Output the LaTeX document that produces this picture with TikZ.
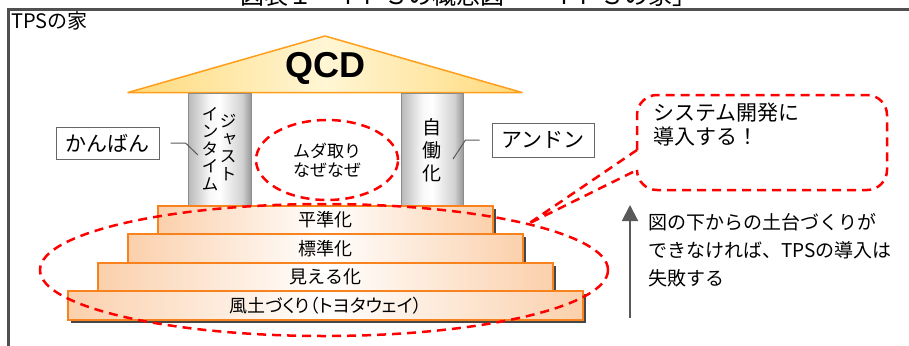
\documentclass[tikz,border=0pt]{standalone}
\usepackage{fontspec}
\setmainfont{Noto Sans CJK JP}
\newfontfamily\jpv[RawFeature=+vert]{Noto Sans CJK JP}
\newfontfamily\jpp[RawFeature=+palt]{Noto Sans CJK JP}
\newfontfamily\qcdfont{Liberation Sans}
\usetikzlibrary{shapes.geometric,arrows.meta}
\definecolor{frameg}{HTML}{505050}
\definecolor{roofedge}{HTML}{FF9E1B}
\definecolor{roofout}{HTML}{FFD97A}
\definecolor{roofin}{HTML}{FFF6D5}
\definecolor{stepedge}{HTML}{F7821E}
\definecolor{stepout}{HTML}{FBD0AC}
\definecolor{dashred}{HTML}{FF0000}
\definecolor{linegray}{HTML}{595959}
\pgfdeclarehorizontalshading{pillarsh}{100bp}{color(0bp)=(black!28); color(25bp)=(black!28); color(42bp)=(black!3); color(50bp)=(white); color(68bp)=(black!18); color(75bp)=(black!40); color(100bp)=(black!40)}
\pgfdeclarehorizontalshading{stepsh}{100bp}{color(0bp)=(stepout); color(25bp)=(stepout); color(50bp)=(white); color(75bp)=(stepout); color(100bp)=(stepout)}
\pgfdeclarehorizontalshading{roofsh}{100bp}{color(0bp)=(roofout); color(25bp)=(roofout); color(50bp)=(roofin); color(75bp)=(roofout); color(100bp)=(roofout)}
\begin{document}
\begin{tikzpicture}[x=1pt,y=-1pt,
  reddash/.style={draw=dashred, line width=2.5pt, dash pattern=on 9pt off 6pt},
  stepbox/.style={shade, shading=stepsh, draw=stepedge, line width=1.8pt, minimum height=28.5pt, inner sep=0pt, font=\fontsize{18}{18}\selectfont},
  stepshadow/.style={fill=black!72},
  labelbox/.style={draw=black!60, line width=1pt, fill=white, inner sep=0pt, font=\fontsize{21}{21}\selectfont},
  thinline/.style={draw=linegray, line width=1pt},
  vtext/.style={align=center, inner sep=0pt}
]
\useasboundingbox (0,0) rectangle (909,345);
% title (cut off at top, as in the reference)
\node[anchor=base, inner sep=0pt, font=\fontsize{24}{24}\selectfont] (title) at (468,5) {図表１　ＴＰＳの概念図　「ＴＰＳの家」};
% frame
\draw[frameg, line width=3pt] (8.5,352) -- (8.5,9.5) -- (916,9.5);
\node[anchor=north west, inner sep=0pt, font=\fontsize{20}{20}\selectfont] (hdr) at (11,12) {TPSの家};
% roof
\path[shade, shading=roofsh, draw=roofedge, line width=1.5pt, line join=round] (128,92.5) -- (325,36) -- (522,92.5) -- cycle;
\node[inner sep=0pt, font=\qcdfont\bfseries\fontsize{36}{36}\selectfont] (qcd) at (325,68) {QCD};
% pillars
\path[shade, shading=pillarsh, draw=black!45, line width=0.8pt] (188,93) rectangle (251,210);
\path[shade, shading=pillarsh, draw=black!45, line width=0.8pt] (401,93) rectangle (463,210);
\node[vtext, font=\jpv\fontsize{17}{17.6}\selectfont] (jit1) at (228,147.5) {ジ\\ャ\\ス\\ト};
\node[vtext, font=\jpv\fontsize{17}{17.6}\selectfont] (jit2) at (210,149) {イ\\ン\\タ\\イ\\ム};
\node[vtext, font=\fontsize{19}{23}\selectfont] (jidoka) at (432,150) {自\\働\\化};
% muda ellipse
\node[reddash, ellipse, minimum width=142pt, minimum height=80pt, inner sep=0pt, align=center, font=\fontsize{17}{19}\selectfont] (muda) at (327,160) {ムダ取り\\なぜなぜ};
% label boxes
\node[labelbox, minimum width=103pt, minimum height=32pt] (kanban) at (107.5,143) {かんばん};
\node[labelbox, minimum width=102pt, minimum height=34pt] (andon) at (543,140) {アンドン};
\coordinate (kbend) at (198,155);
\coordinate (adend) at (453,159);
\draw[thinline] ([xshift=11pt]kanban.east) -- ++(15,0) -- (kbend);
\draw[thinline] ([xshift=-12pt]andon.west) -- ++(-14,0) -- (adend);
% steps with shadows
\fill[stepshadow] (161,209) rectangle (496,237.3);
\node[stepbox, minimum width=335pt] (s1) at (325.5,220) {平準化};
\fill[stepshadow] (131,237.3) rectangle (526,265.8);
\node[stepbox, minimum width=395pt] (s2) at (325.5,248.5) {標準化};
\fill[stepshadow] (101,265.8) rectangle (556,294.3);
\node[stepbox, minimum width=455pt] (s3) at (325.5,277) {見える化};
\fill[stepshadow] (71,294.3) rectangle (586,322.8);
\node[stepbox, minimum width=515pt, font=\jpp\fontsize{18}{18}\selectfont] (s4) at (325.5,305.5) {風土づくり（トヨタウェイ）};
% big ellipse
\node[reddash, ellipse, minimum width=568pt, minimum height=132pt, inner sep=0pt] (base) at (324,270) {};
% callout
\draw[reddash, rounded corners=20pt] (637,150) -- (637,95) -- (887,95) -- (887,190) -- (637,190) -- (637,170);
\coordinate (tip) at (528,224);
\draw[reddash] (637,150) -- (tip) -- (637,170);
\node[anchor=west, align=left, inner sep=0pt, font=\fontsize{21}{24}\selectfont] (callt) at (653,125) {システム開発に\\導入する！};
% arrow
\coordinate (arB) at (630,318);
\coordinate (arT) at (630,205);
\draw[linegray, line width=2pt, -{Triangle[width=16pt,length=16pt]}] (arB) -- (arT);
\node[anchor=west, align=left, inner sep=0pt, font=\fontsize{19}{28}\selectfont] (note) at (648,250) {図の下からの土台づくりが\\できなければ、TPSの導入は\\失敗する};
\end{tikzpicture}
\end{document}
